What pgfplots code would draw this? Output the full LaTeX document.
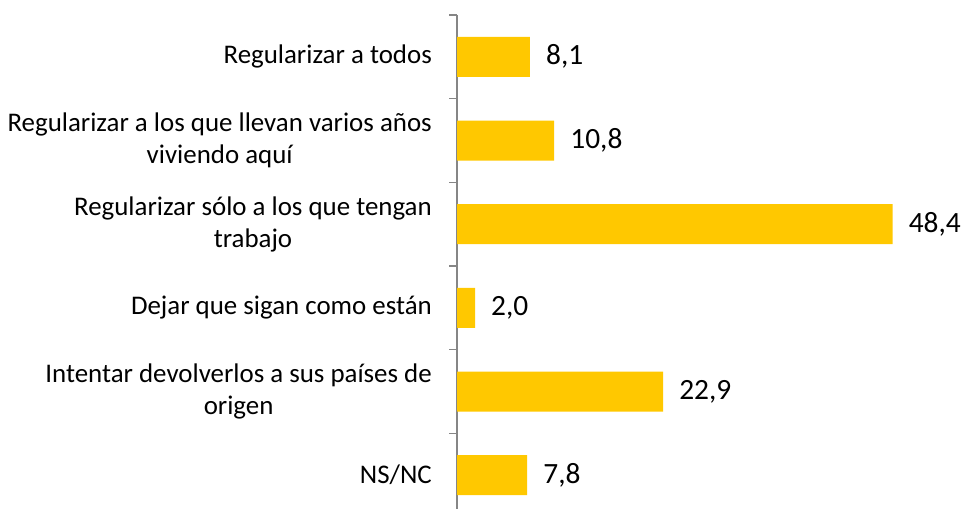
\documentclass[border=0pt]{standalone}
\usepackage{pgfplots}
\pgfplotsset{compat=1.18}
\usepackage{fontspec}
\setmainfont{Carlito}
\definecolor{baryellow}{HTML}{FFC800}
\definecolor{axisgray}{HTML}{868686}
\begin{document}
\begin{tikzpicture}
\useasboundingbox (0,0) rectangle (964bp,509bp);
\begin{axis}[
  at={(457bp,0bp)}, anchor=south west,
  scale only axis, width=450bp, height=494bp,
  xbar, bar width=40bp,
  xmin=0, xmax=50,
  ymin=-0.5, ymax=5.404,
  y dir=reverse,
  axis x line=none,
  axis y line*=left,
  y axis line style={draw=axisgray, line width=1.3bp, -},
  ytick={0,1,2,3,4,5},
  yticklabels={{Regularizar a todos},{Regularizar a los que llevan varios años\\viviendo aquí},{Regularizar sólo a los que tengan\\trabajo},{Dejar que sigan como están},{Intentar devolverlos a sus países de\\origen},{NS/NC}},
  major tick length=0pt,
  yticklabel style={align=center, inner sep=0pt, xshift=-25bp, font=\fontsize{27}{32.5}\selectfont, text=black},
  extra y ticks={-0.5,0.5,1.5,2.5,3.5,4.5},
  extra y tick labels={},
  extra y tick style={major tick length=8bp, tick align=outside, tick style={draw=axisgray, line width=1.3bp}},
  nodes near coords,
  nodes near coords style={anchor=west, inner sep=0pt, xshift=16bp, font=\fontsize{29.5}{34}\selectfont, text=black},
  /pgf/number format/.cd, fixed, precision=1, zerofill, use comma, assume math mode=true,
  /pgfplots/.cd,
  clip=false,
]
\addplot[draw=none, fill=baryellow] coordinates {
 (8.1,0) (10.8,1) (48.4,2) (2.0,3) (22.9,4) (7.8,5)
};
\end{axis}
\end{tikzpicture}
\end{document}
